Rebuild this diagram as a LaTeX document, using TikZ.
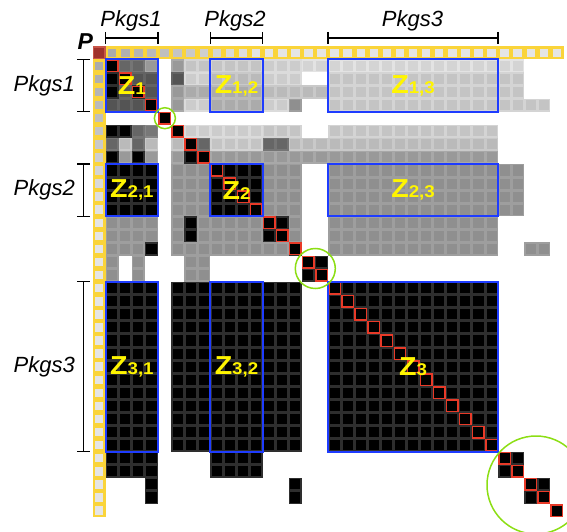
\documentclass[tikz,border=0pt]{standalone}
\usepackage{fontspec}
\setmainfont{Liberation Sans}
\definecolor{yel}{RGB}{250,212,58}
\definecolor{pred}{RGB}{160,50,44}
\definecolor{pred2}{RGB}{200,85,72}
\definecolor{dred}{RGB}{232,58,40}
\definecolor{zblue}{RGB}{30,60,255}
\definecolor{lime}{RGB}{140,222,20}
\definecolor{zyel}{RGB}{255,245,0}
\def\cs{13.08}
\def\ox{105.7}
\def\oy{59.3}
\tikzset{
  cellbase/.style={line width=1.5pt},
  gcell/.style 2 args={cellbase,fill=white!#1!black,draw=white!#2!black},
  cell/K/.style={cellbase,fill=black,draw=white!18!black},
  cell/R/.style={line width=1.5pt,fill=black,draw=dred},
  cell/a/.style={gcell={27}{33}},
  cell/b/.style={gcell={33}{39}},
  cell/c/.style={gcell={40}{46}},
  cell/d/.style={gcell={47}{53}},
  cell/e/.style={gcell={56}{62}},
  cell/f/.style={gcell={60}{66}},
  cell/g/.style={gcell={67}{73}},
  cell/h/.style={gcell={73}{79}},
  cell/i/.style={gcell={77}{83}},
  cell/j/.style={gcell={80}{86}},
  cell/k/.style={gcell={83}{89}},
  cell/o/.style={},
  zbox/.style={draw=zblue,line width=1.8pt},
  zlab/.style={text=zyel,inner sep=0pt,xscale=1.1,font=\bfseries\fontsize{26}{26}\selectfont},
  ring/.style={draw=lime,line width=1.5pt},
  brk/.style={draw=black,line width=1.3pt},
  lab/.style={inner sep=0pt,font=\itshape\fontsize{22}{24}\selectfont},
}
\newcommand\zs[1]{{\fontsize{17}{17}\selectfont #1}}
\newcommand\mrow[2]{%
  \foreach \v [count=\jj from 0] in {#2}{%
    \path[cell/\v] ({\ox+\cs*\jj+0.75},{\oy+\cs*(#1)+0.75}) rectangle ++({\cs-1.5},{\cs-1.5});
  }}
\newcommand\mrun[4]{%
  \foreach \jj in {#2,...,#3}{%
    \path[cell/#4] ({\ox+\cs*\jj+0.75},{\oy+\cs*(#1)+0.75}) rectangle ++({\cs-1.5},{\cs-1.5});
  }}
\begin{document}
\begin{tikzpicture}[x=1pt,y=-1pt]
\useasboundingbox (0,0) rectangle (567,532);
\clip (0,0) rectangle (567,532);
% yellow frame
\fill[yel] ({\ox-\cs},{\oy-\cs}) rectangle ({\ox+35*\cs},\oy);
\fill[yel] ({\ox-\cs},\oy) rectangle (\ox,{\oy+35*\cs});
\foreach \k in {0,...,34}{%
  \pgfmathtruncatemacro\gv{min(67+2*\k,90)}%
  \fill[white!\gv!black] ({\ox+\cs*\k+2.3},{\oy-\cs+2.3}) rectangle ++({\cs-4.6},{\cs-4.6});
  \fill[white!\gv!black] ({\ox-\cs+2.3},{\oy+\cs*\k+2.3}) rectangle ++({\cs-4.6},{\cs-4.6});
}
\path[fill=pred,draw=pred2,line width=1.4pt] ({\ox-\cs+0.7},{\oy-\cs+0.7}) rectangle ++({\cs-1.4},{\cs-1.4});
% matrix cells, columns 0-16
\mrow{0}{K,c,c,f,o,f,i,i,i,i,i,i,j,j,j,k,k}
\mrow{1}{K,K,b,b,o,b,j,j,h,h,h,h,j,j,j,o,o}
\mrow{2}{K,b,K,b,o,f,g,g,g,g,g,g,h,h,h,h,h}
\mrow{3}{b,b,b,K,o,f,j,j,g,g,g,g,j,j,e,o,o}
\mrow{5}{K,K,c,d,o,K,j,j,j,j,j,j,i,i,i,o,o}
\mrow{6}{c,h,c,h,o,h,K,c,i,i,i,i,c,c,h,h,h}
\mrow{7}{K,f,K,f,o,f,K,K,f,f,f,f,f,f,f,f,f}
\foreach \r in {8,...,11}{\mrow{\r}{K,K,K,K,o,e,e,e,K,K,K,K,e,e,e}}
\mrow{12}{e,e,e,e,o,e,K,e,e,e,e,e,K,K,e}
\mrow{13}{e,e,e,e,o,e,K,e,e,e,e,e,K,K,e}
\mrow{14}{e,e,e,K,o,e,e,e,e,e,e,e,e,e,K}
\mrow{15}{e,o,e,o,o,o,e,e,o,o,o,o,o,o,o,K,K}
\mrow{16}{e,o,e,o,o,o,e,e,o,o,o,o,o,o,o,K,K}
% columns 17 and beyond
\mrun{0}{17}{31}{k}
\mrun{1}{17}{31}{i}
\mrun{2}{17}{31}{i}
\mrun{3}{17}{33}{i}
\mrun{5}{17}{29}{i}
\mrun{6}{17}{29}{h}
\mrun{7}{17}{29}{f}
\foreach \r in {8,...,11}{\mrun{\r}{17}{31}{e}}
\foreach \r in {12,...,14}{\mrun{\r}{17}{29}{e}}
\mrun{14}{32}{33}{e}
\foreach \r in {17,...,29}{\mrun{\r}{0}{3}{K}\mrun{\r}{5}{14}{K}\mrun{\r}{17}{29}{K}}
\foreach \r in {30,31}{\mrun{\r}{0}{3}{K}\mrun{\r}{8}{11}{K}\mrun{\r}{30}{31}{K}}
\foreach \r in {32,33}{\mrun{\r}{3}{3}{K}\mrun{\r}{14}{14}{K}\mrun{\r}{32}{33}{K}}
% red diagonal
\foreach \d in {0,...,34}{%
  \path[cell/R] ({\ox+\cs*\d+0.8},{\oy+\cs*\d+0.8}) rectangle ++({\cs-1.6},{\cs-1.6});
}
% blue blocks
\draw[zbox] (105.7,59.3) rectangle (158.02,111.62);
\draw[zbox] (210.34,59.3) rectangle (262.66,111.62);
\draw[zbox] (328.06,59.3) rectangle (498.1,111.62);
\draw[zbox] (105.7,163.94) rectangle (158.02,216.26);
\draw[zbox] (210.34,163.94) rectangle (262.66,216.26);
\draw[zbox] (328.06,163.94) rectangle (498.1,216.26);
\draw[zbox] (105.7,281.66) rectangle (158.02,451.7);
\draw[zbox] (210.34,281.66) rectangle (262.66,451.7);
\draw[zbox] (328.06,281.66) rectangle (498.1,451.7);
% Z labels
\node[zlab] (z1) at (131.9,85.5) {Z\zs{1}};
\node[zlab] (z12) at (236.5,85.5) {Z\zs{1,2}};
\node[zlab] (z13) at (413.1,85.5) {Z\zs{1,3}};
\node[zlab] (z21) at (131.9,190.1) {Z\zs{2,1}};
\node[zlab] (z2) at (236.5,190.1) {Z\zs{2}};
\node[zlab] (z23) at (413.1,190.1) {Z\zs{2,3}};
\node[zlab] (z31) at (131.9,366.7) {Z\zs{3,1}};
\node[zlab] (z32) at (236.5,366.7) {Z\zs{3,2}};
\node[zlab] (z3) at (413.1,366.7) {Z\zs{3}};
% green rings
\draw[ring] (164.9,118.2) circle[radius=10.5];
\draw[ring] (315.3,268.5) circle[radius=20];
\draw[ring] (536,485) circle[radius=49];
% top brackets
\draw[brk] (105.7,32) -- (105.7,44) (105.7,38) -- (158.02,38) (158.02,32) -- (158.02,44);
\draw[brk] (210.34,32) -- (210.34,44) (210.34,38) -- (262.66,38) (262.66,32) -- (262.66,44);
\draw[brk] (328.06,32) -- (328.06,44) (328.06,38) -- (498.1,38) (498.1,32) -- (498.1,44);
% left brackets
\draw[brk] (77,59.3) -- (89.5,59.3) (83.3,59.3) -- (83.3,111.62) (77,111.62) -- (89.5,111.62);
\draw[brk] (77,163.94) -- (89.5,163.94) (83.3,163.94) -- (83.3,216.26) (77,216.26) -- (89.5,216.26);
\draw[brk] (77,281.66) -- (89.5,281.66) (83.3,281.66) -- (83.3,451.7) (77,451.7) -- (89.5,451.7);
% labels
\node[lab,anchor=base] (t1) at (131,26.7) {Pkgs1};
\node[lab,anchor=base] (t2) at (235,26.7) {Pkgs2};
\node[lab,anchor=base] (t3) at (412.5,26.7) {Pkgs3};
\node[lab,anchor=base east] (l1) at (75,91.5) {Pkgs1};
\node[lab,anchor=base east] (l2) at (75,195.5) {Pkgs2};
\node[lab,anchor=base east] (l3) at (75,372.5) {Pkgs3};
\node[inner sep=0pt,anchor=base west,font=\bfseries\itshape\fontsize{23}{24}\selectfont] (p) at (77.5,50) {P};
\end{tikzpicture}
\end{document}
